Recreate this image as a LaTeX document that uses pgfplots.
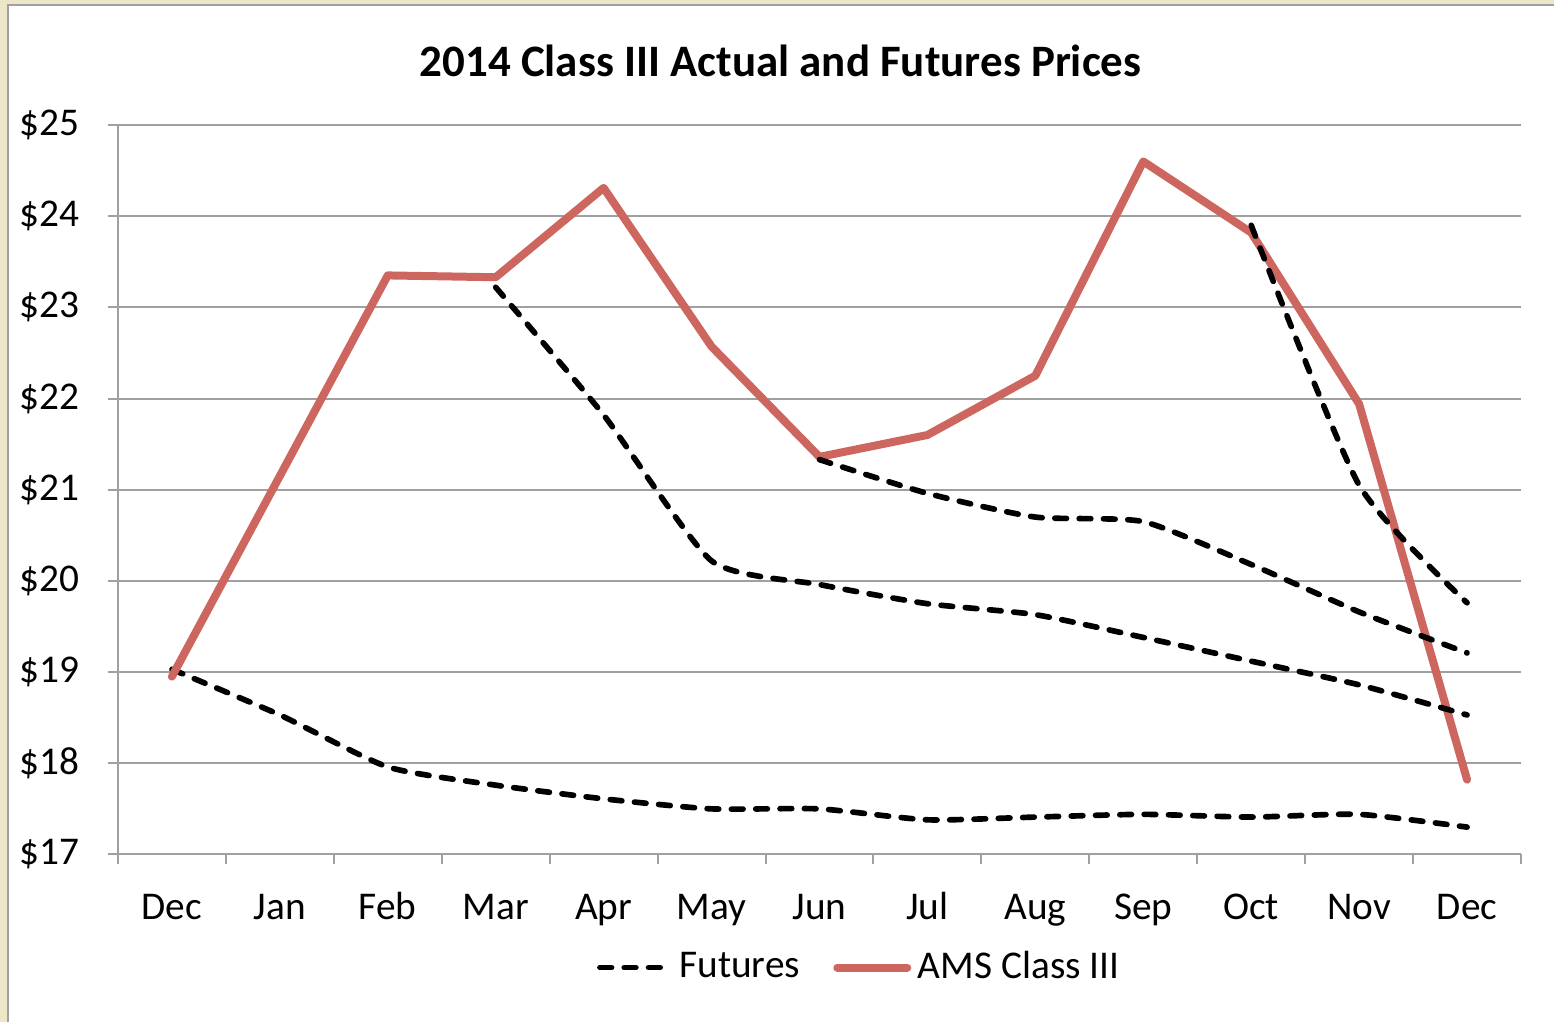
\documentclass[border=0pt]{standalone}
\usepackage{fontspec}
\setmainfont{Carlito}
\usepackage{pgfplots}
\pgfplotsset{compat=1.18}
\definecolor{amsred}{RGB}{206,102,96}
\definecolor{gridgray}{RGB}{160,160,160}
\definecolor{beige}{RGB}{238,230,200}
\begin{document}
\begin{tikzpicture}[x=0.3pt,y=0.3pt]
\fill[beige] (0,0) rectangle (1555,1023);
\fill[white] (8,0) rectangle (1555,1018);
\draw[gridgray, line width=0.6pt] (8,0) -- (8,1018) -- (1555,1018);
\node[font=\bfseries\fontsize{13.5}{16}\selectfont] at (781,962) {2014 Class III Actual and Futures Prices};
\begin{axis}[
  at={(35.4pt,50.4pt)}, anchor=south west,
  scale only axis, width=421.2pt, height=219pt,
  xmin=-0.5, xmax=12.5, ymin=17, ymax=25,
  xtick={0,...,12},
  xticklabels={Dec,Jan,Feb,Mar,Apr,May,Jun,Jul,Aug,Sep,Oct,Nov,Dec},
  major x tick style={draw=none},
  minor xtick={-0.5,0.5,...,12.5},
  ytick={17,...,25},
  yticklabels={\$17,\$18,\$19,\$20,\$21,\$22,\$23,\$24,\$25},
  tick align=outside,
  major tick length=3pt, minor tick length=3pt,
  axis x line*=bottom, axis y line*=left,
  axis line style={gridgray, line width=0.6pt},
  ymajorgrids, grid style={gridgray, line width=0.6pt},
  y tick style={gridgray, line width=0.6pt},
  minor x tick style={gridgray, line width=0.6pt},
  ticklabel style={font=\fontsize{11.8}{14}\selectfont, text=black},
  xticklabel style={yshift=-5pt, text height=8pt, text depth=2.5pt},
  yticklabel style={xshift=-5pt},
  legend columns=2,
  legend style={draw=none, fill=none, at={(0.53,-0.155)}, anchor=center,
    font=\fontsize{11.8}{14}\selectfont,
    /tikz/every even column/.append style={column sep=8pt}},
  legend image code/.code={\draw[#1] (0pt,0pt) -- (21pt,0pt);},
]
\addplot[black, line width=1.7pt, dash pattern=on 3.5pt off 3.8pt, line cap=round, smooth, tension=0.35] coordinates {
 (0,19.03) (1,18.53) (2,17.96) (3,17.76) (4,17.61) (5,17.50) (6,17.50) (7,17.38) (8,17.41) (9,17.44) (10,17.41) (11,17.44) (12,17.30)};
\addlegendentry{Futures}
\addplot[amsred, line width=2.4pt, line cap=round, line join=round] coordinates {
 (0,18.95) (1,21.15) (2,23.35) (3,23.33) (4,24.31) (5,22.57) (6,21.36) (7,21.60) (8,22.25) (9,24.60) (10,23.82) (11,21.94) (12,17.82)};
\addlegendentry{AMS Class III}
\addplot[forget plot, black, line width=1.7pt, dash pattern=on 3.5pt off 3.8pt, line cap=round, smooth, tension=0.35] coordinates {
 (3,23.22) (4,21.82) (5,20.22) (6,19.96) (7,19.75) (8,19.63) (9,19.38) (10,19.12) (11,18.86) (12,18.53)};
\addplot[forget plot, black, line width=1.7pt, dash pattern=on 3.5pt off 3.8pt, line cap=round, smooth, tension=0.35] coordinates {
 (6,21.33) (7,20.96) (8,20.70) (9,20.65) (10,20.18) (11,19.66) (12,19.21)};
\addplot[forget plot, black, line width=1.7pt, dash pattern=on 3.5pt off 3.8pt, line cap=round, smooth, tension=0.35] coordinates {
 (10,23.90) (11,21.05) (12,19.76)};
\end{axis}
\end{tikzpicture}
\end{document}
